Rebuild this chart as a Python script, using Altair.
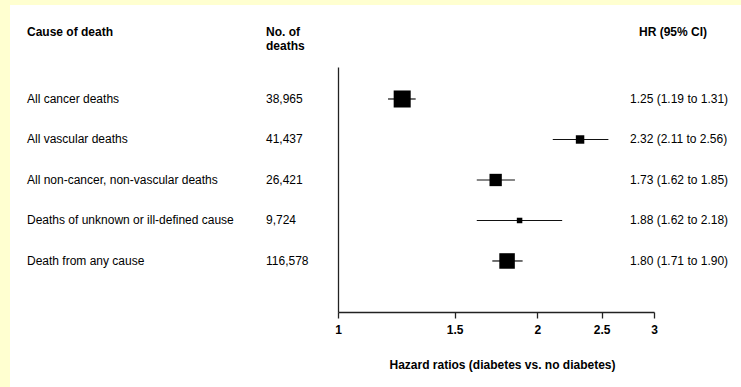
import math
import altair as alt
import pandas as pd

# Forest plot: hazard ratios for death, diabetes vs. no diabetes
causes = [
    "All cancer deaths",
    "All vascular deaths",
    "All non-cancer, non-vascular deaths",
    "Deaths of unknown or ill-defined cause",
    "Death from any cause",
]
n_deaths = ["38,965", "41,437", "26,421", "9,724", "116,578"]
hr = [1.25, 2.32, 1.73, 1.88, 1.80]
ci_low = [1.19, 2.11, 1.62, 1.62, 1.71]
ci_high = [1.31, 2.56, 1.85, 2.18, 1.90]
x_ticks = [1, 1.5, 2, 2.5, 3]

df = pd.DataFrame({
    "cause": causes,
    "deaths": n_deaths,
    "hr": hr,
    "lo": ci_low,
    "hi": ci_high,
})
df["row"] = range(len(df))
df["label"] = [f"{h:.2f} ({l:.2f} to {u:.2f})" for h, l, u in zip(hr, ci_low, ci_high)]
# box area proportional to inverse variance of log HR
se = [(math.log(u) - math.log(l)) / (2 * 1.96) for l, u in zip(ci_low, ci_high)]
df["precision"] = [1 / s ** 2 for s in se]

FONT = "Liberation Sans"
INK = "#000000"

W, H = 316, 245
PAD = {"left": 338, "top": 67, "right": 87, "bottom": 75}

x_scale = alt.Scale(type="log", domain=[1, 3], nice=False)
y_scale = alt.Scale(domain=[5.26, -0.79], nice=False, zero=False)

base = alt.Chart(df)

# page frame and white sheet
frame = base.mark_rect(color="white").encode(
    x=alt.value(-PAD["left"] + 10), x2=alt.value(W + PAD["right"]),
    y=alt.value(-PAD["top"] + 5), y2=alt.value(H + PAD["bottom"]),
)

axes_layer = base.mark_rule(opacity=0).encode(
    x=alt.X("hr:Q", scale=x_scale, axis=alt.Axis(
        values=x_ticks, format="~g", title="Hazard ratios (diabetes vs. no diabetes)",
        grid=False, domainColor="#222", domainWidth=1.3, tickColor="#222",
        tickWidth=1.3, tickSize=6, labelFont=FONT, labelFontSize=12,
        labelFontWeight="bold", labelColor=INK, labelPadding=6,
        labelFlush=False, titleFont=FONT, titleFontSize=12, titleFontWeight="bold",
        titleColor=INK, titlePadding=24, titleX=164, titleAlign="center", zindex=1,
    )),
    y=alt.Y("row:Q", scale=y_scale, axis=alt.Axis(
        title=None, labels=False, ticks=False, grid=False, domainColor="#222",
        domainWidth=1.3, zindex=1,
    )),
)

ci = base.mark_rule(color="#111", strokeWidth=1.2).encode(
    x=alt.X("lo:Q", scale=x_scale), x2="hi:Q",
    y=alt.Y("row:Q", scale=y_scale),
)

boxes = base.mark_point(shape="square", filled=True, color="black", opacity=1).encode(
    x=alt.X("hr:Q", scale=x_scale),
    y=alt.Y("row:Q", scale=y_scale),
    size=alt.Size("precision:Q", scale=alt.Scale(domain=[0, max(df["precision"])], range=[0, 290]), legend=None),
)

def col_text(field, xpos):
    return base.mark_text(align="left", baseline="middle", font=FONT, fontSize=12,
                          color=INK).encode(
        x=alt.value(xpos), y=alt.Y("row:Q", scale=y_scale), text=f"{field}:N")

cause_txt = col_text("cause", 27 - PAD["left"])
deaths_txt = col_text("deaths", 266 - PAD["left"])
hr_txt = col_text("label", 630 - PAD["left"])

def header(text, xpos, ypos, align="left"):
    return alt.Chart(pd.DataFrame({"t": [text]})).mark_text(
        align=align, baseline="middle", font=FONT, fontSize=12, fontWeight="bold", color=INK
    ).encode(x=alt.value(xpos), y=alt.value(ypos), text="t:N")

headers = (
    header("Cause of death", 27 - PAD["left"], 32 - PAD["top"])
    + header("No. of", 266 - PAD["left"], 32 - PAD["top"])
    + header("deaths", 266 - PAD["left"], 46 - PAD["top"])
    + header("HR (95% CI)", 707 - PAD["left"], 32 - PAD["top"], align="right")
)

chart = alt.layer(
    frame, axes_layer, ci, boxes, cause_txt, deaths_txt, hr_txt, headers
).properties(
    width=W, height=H, padding=PAD, autosize=alt.AutoSizeParams(type="none"),
    background="#FFFFD0",
).configure_view(stroke=None)

chart.save("out.html", embed_options={"renderer": "svg", "actions": False})
